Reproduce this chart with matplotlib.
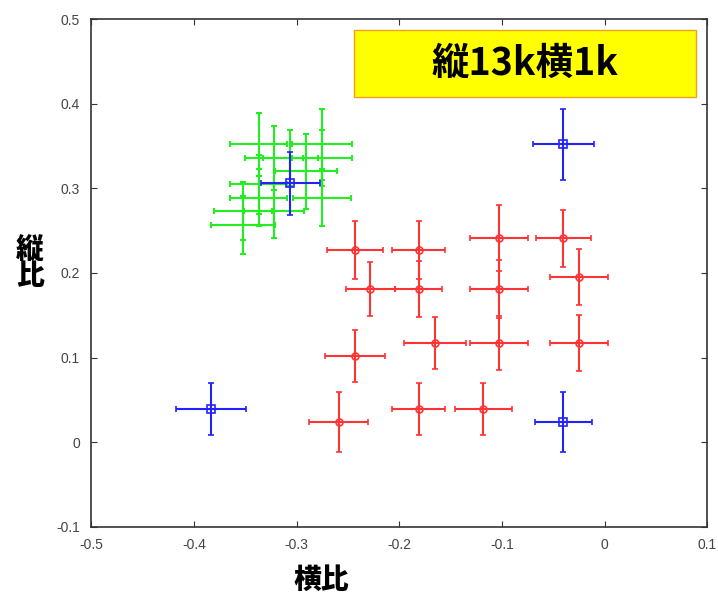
import numpy as np
import matplotlib.pyplot as plt
from matplotlib.patches import Rectangle

plt.rcParams['font.family'] = ['Liberation Sans', 'DejaVu Sans']

# green cluster
gx = [-0.337, -0.275, -0.322, -0.275, -0.306, -0.291, -0.337, -0.337, -0.275, -0.352, -0.322, -0.352]
gy = [0.352, 0.352, 0.336, 0.336, 0.336, 0.320, 0.305, 0.289, 0.289, 0.273, 0.273, 0.257]
gxe = [0.028, 0.029, 0.028, 0.029, 0.027, 0.030, 0.028, 0.028, 0.028, 0.028, 0.029, 0.031]
gye = [0.037, 0.042, 0.038, 0.033, 0.033, 0.044, 0.035, 0.034, 0.034, 0.034, 0.032, 0.034]

# blue
bx = [-0.306, -0.040, -0.383, -0.040]
by = [0.306, 0.352, 0.039, 0.024]
bxe = [0.029, 0.030, 0.034, 0.028]
bye = [0.037, 0.042, 0.031, 0.035]

# red
rx = [-0.243, -0.181, -0.103, -0.040, -0.228, -0.181, -0.103, -0.025,
      -0.165, -0.103, -0.025, -0.243, -0.181, -0.118, -0.259]
ry = [0.227, 0.227, 0.241, 0.241, 0.181, 0.181, 0.181, 0.195,
      0.117, 0.117, 0.117, 0.102, 0.039, 0.039, 0.024]
rxe = [0.027, 0.026, 0.028, 0.027, 0.024, 0.023, 0.028, 0.028,
       0.030, 0.028, 0.028, 0.029, 0.026, 0.028, 0.029]
rye = [0.034, 0.034, 0.039, 0.034, 0.032, 0.033, 0.034, 0.033,
       0.031, 0.032, 0.033, 0.031, 0.031, 0.031, 0.035]

fig = plt.figure(figsize=(7.18, 5.98), dpi=100)
ax = fig.add_axes([0.127, 0.119, 0.858, 0.849])

ax.errorbar(gx, gy, xerr=gxe, yerr=gye, fmt='none', ecolor='#22ee22',
            elinewidth=1.5, capsize=2, capthick=1.5)
ax.errorbar(bx, by, xerr=bxe, yerr=bye, fmt='s', color='#2222ff', mfc='none',
            mec='#2222ff', ms=6, mew=1.2, elinewidth=1.5, capsize=2, capthick=1.5)
ax.errorbar(rx, ry, xerr=rxe, yerr=rye, fmt='o', color='#ff3333', mfc='none',
            mec='#ff3333', ms=5, mew=1.2, elinewidth=1.5, capsize=2, capthick=1.5)

ax.set_xlim(-0.5, 0.1)
ax.set_ylim(-0.1, 0.5)
ax.set_xticks(np.arange(-0.5, 0.11, 0.1))
ax.set_yticks(np.arange(-0.1, 0.51, 0.1))
ax.set_xticklabels(['-0.5', '-0.4', '-0.3', '-0.2', '-0.1', '0', '0.1'])
ax.set_yticklabels(['-0.1', '0', '0.1', '0.2', '0.3', '0.4', '0.5'])
ax.tick_params(direction='in', top=True, right=True, length=4, labelsize=10,
               labelcolor='#444444', color='#333333', pad=8)
for s in ax.spines.values():
    s.set_color('#333333')
    s.set_linewidth(1.2)

cjk = ['Noto Sans CJK JP', 'DejaVu Sans']
fig.text(0.448, 0.03, '横比', family=cjk, fontsize=20,
         fontweight='black', ha='center', va='center')
fig.text(0.042, 0.56, '縦\n比', family=cjk, fontsize=20, fontweight='black',
         ha='center', va='center', linespacing=0.9)

ax.add_patch(Rectangle((-0.244, 0.408), 0.333, 0.079, facecolor='#ffff00',
                       edgecolor='#f0a020', linewidth=1, zorder=5))
ax.text(-0.0775, 0.4475, '縦13k横1k', family=cjk, fontsize=27, fontweight='bold',
        ha='center', va='center', zorder=6)

fig.savefig('out.png', dpi=100)
